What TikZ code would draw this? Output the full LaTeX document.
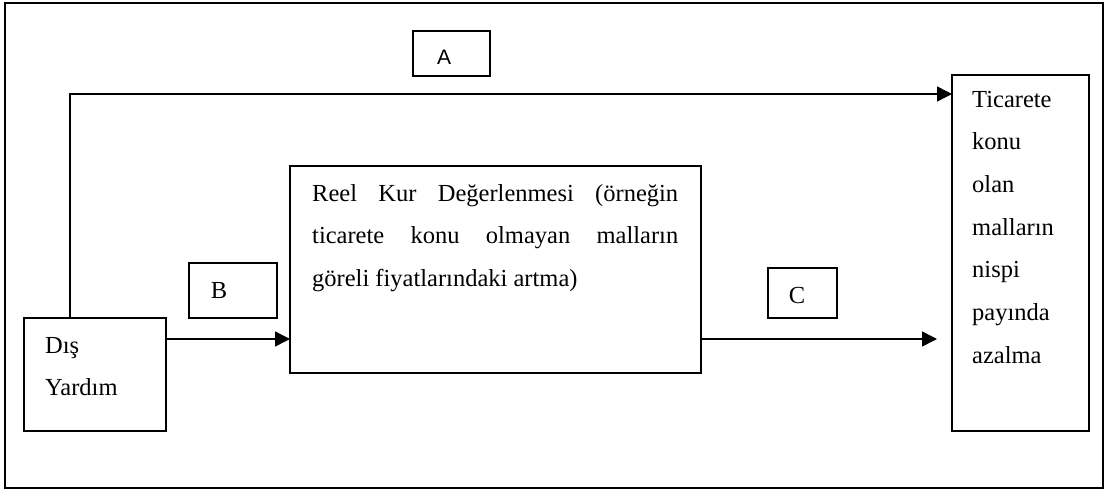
\documentclass[tikz,border=0pt]{standalone}
\usepackage{fontspec}
\setmainfont{Liberation Serif}
\newfontfamily\labsans{Liberation Sans}
\usetikzlibrary{arrows.meta,calc}
\begin{document}
\begin{tikzpicture}[x=1pt,y=-1pt,
  box/.style={draw,line width=1.5pt,rectangle,inner sep=0pt,outer sep=0pt,anchor=north west},
  txt/.style={inner sep=0pt,anchor=base west,font=\fontsize{24.5}{42.7}\selectfont},
  lett/.style={inner sep=0pt,anchor=base,font=\fontsize{24.5}{28}\selectfont},
  arr/.style={line width=1.5pt,-{Triangle[length=15pt,width=15pt]}}]
\useasboundingbox (0,0) rectangle (1109,493);
\node[box,line width=2.2pt,minimum width=1098pt,minimum height=485pt] (frame) at (5,3) {};
\node[box,minimum width=77pt,minimum height=45pt] (abox) at (413,31) {};
\node[box,minimum width=137pt,minimum height=356pt] (rbox) at (952,75) {};
\node[box,minimum width=411pt,minimum height=207pt] (reel) at (290,166) {};
\node[box,minimum width=88pt,minimum height=55pt] (bbox) at (189,263) {};
\node[box,minimum width=142pt,minimum height=113pt] (dis) at (24,318) {};
\node[box,minimum width=69pt,minimum height=50pt] (cbox) at (768,268) {};
\node[inner sep=0pt,anchor=base,font=\labsans\fontsize{21}{24}\selectfont] (atxt) at (444,64) {A};
\node[lett] (btxt) at (219,298) {B};
\node[lett] (ctxt) at (797,303) {C};
\node[txt] (reeltxt) at (312,201) {\parbox[t]{366pt}{Reel Kur Değerlenmesi (örneğin\linebreak ticarete konu olmayan malların\linebreak göreli fiyatlarındaki artma)}};
\node[txt] (rtxt) at (972,107) {\parbox[t]{110pt}{\raggedright Ticarete\\konu\\olan\\malların\\nispi\\payında\\azalma}};
\node[txt] (dtxt) at (45,353) {\parbox[t]{110pt}{\raggedright Dış\\Yardım}};
\coordinate (ax) at (70,0);
\coordinate (ay) at (0,94);
\coordinate (by) at (0,339);
\coordinate (cend) at (937,339);
\draw[arr] (dis.north -| ax) |- (rbox.west |- ay);
\draw[arr] (dis.east |- by) -- (reel.west |- by);
\draw[arr] (reel.east |- by) -- (cend);
\end{tikzpicture}
\end{document}
